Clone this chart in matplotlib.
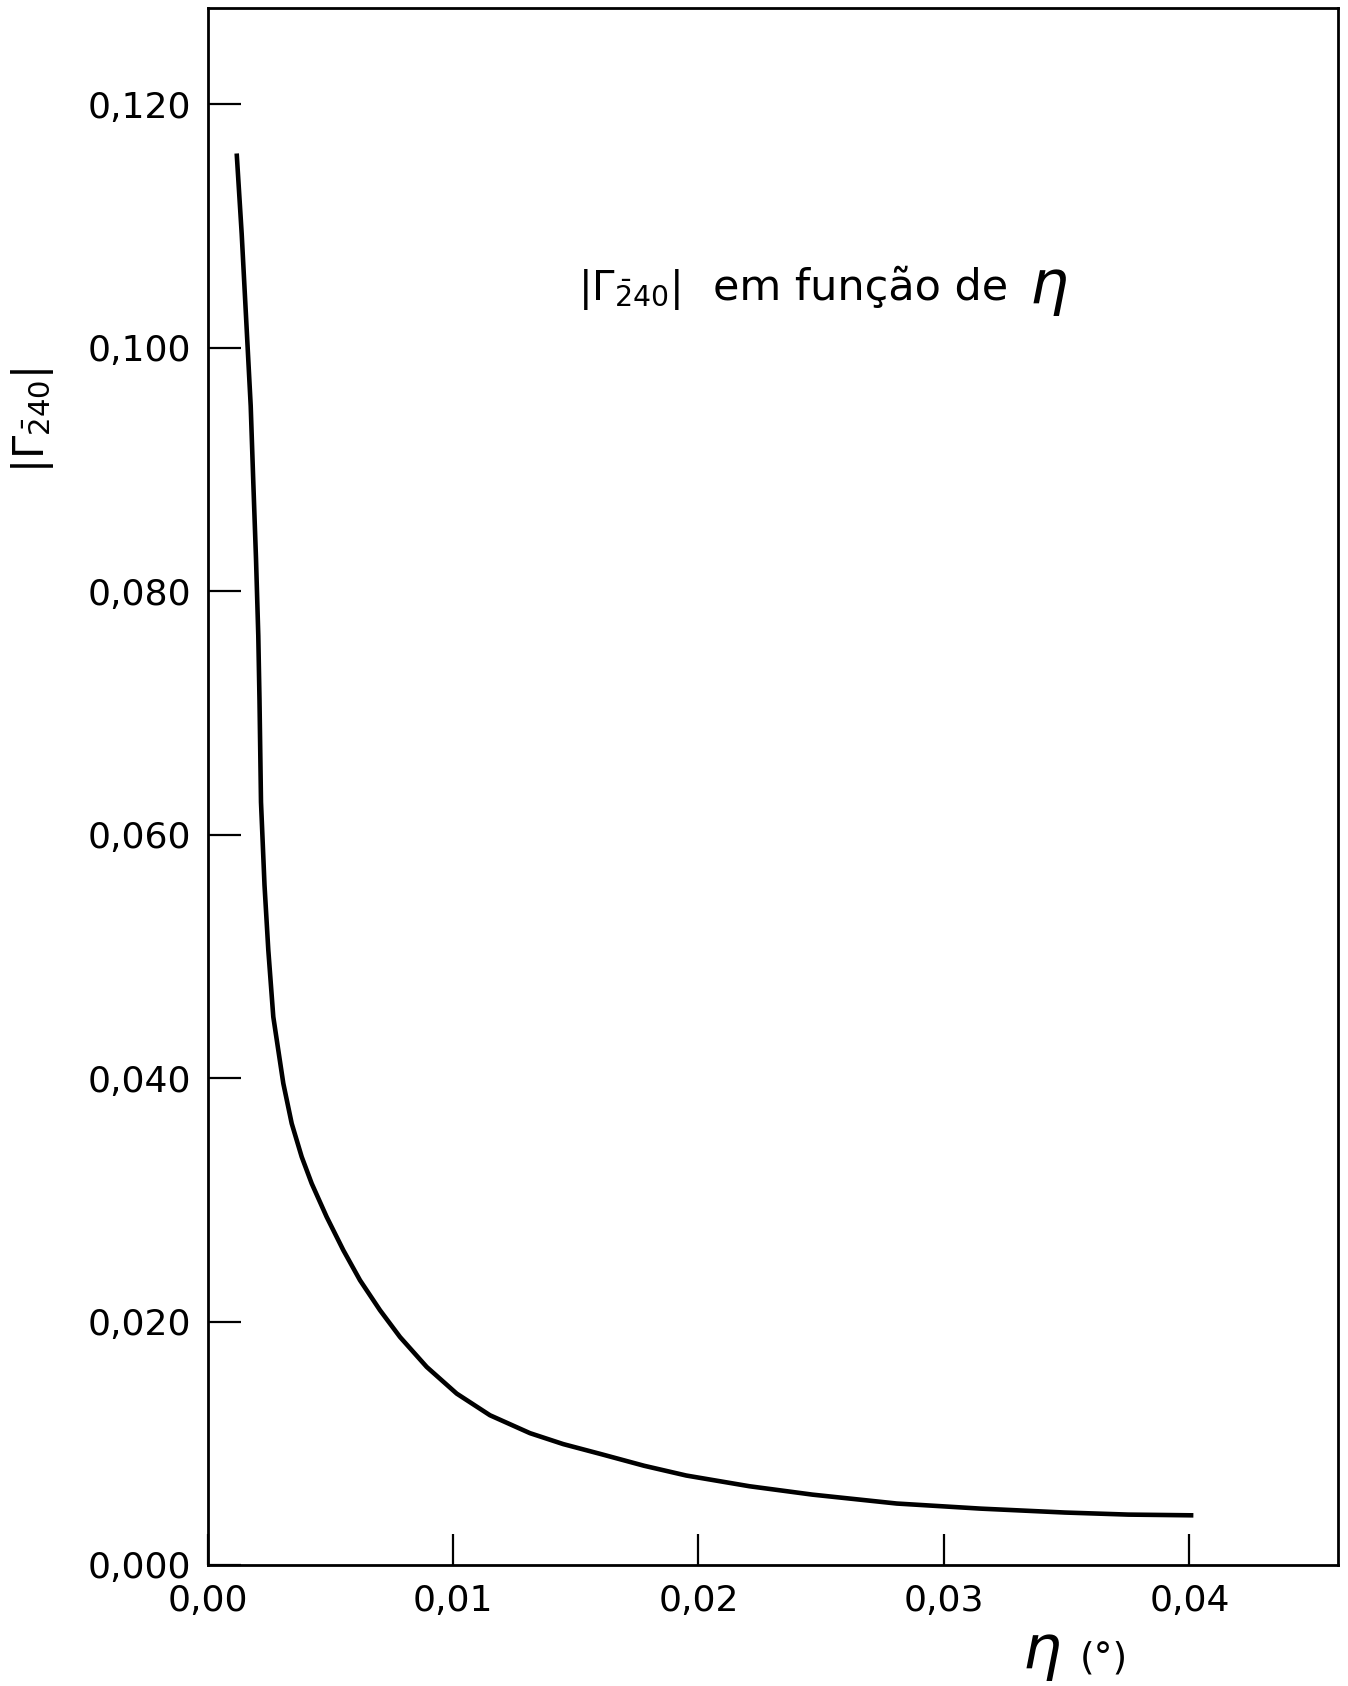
import matplotlib
matplotlib.use("Agg")
import matplotlib.pyplot as plt

# data
eta = [0.001189, 0.001393, 0.001597, 0.001760, 0.001866, 0.001976, 0.002069,
       0.002118, 0.002179, 0.002322, 0.002477, 0.002680, 0.002884, 0.003088,
       0.003430, 0.003837, 0.004244, 0.004855, 0.005532, 0.006212, 0.007026,
       0.007841, 0.008929, 0.010151, 0.011507, 0.013136, 0.014493, 0.016029,
       0.017788, 0.019503, 0.022073, 0.024644, 0.028073, 0.031503, 0.034929,
       0.037503, 0.040159]
gamma = [0.11595, 0.10934, 0.10149, 0.09521, 0.08891, 0.08264, 0.07633,
         0.07105, 0.06267, 0.05585, 0.05051, 0.04503, 0.04229, 0.03956,
         0.03627, 0.03353, 0.03134, 0.02859, 0.02586, 0.02339, 0.02093,
         0.01873, 0.01627, 0.01408, 0.01230, 0.01083, 0.00993, 0.00911,
         0.00815, 0.00735, 0.00647, 0.00578, 0.00505, 0.00463, 0.00431,
         0.00414, 0.00408]

xticks = [0.00, 0.01, 0.02, 0.03, 0.04]
xticklabels = ["0,00", "0,01", "0,02", "0,03", "0,04"]
yticks = [0.000, 0.020, 0.040, 0.060, 0.080, 0.100, 0.120]
yticklabels = ["0,000", "0,020", "0,040", "0,060", "0,080", "0,100", "0,120"]

plt.rcParams['font.family'] = ["DejaVu Sans"]

W, H = 1348, 1686
fig = plt.figure(figsize=(W / 100, H / 100), dpi=100)
L, R, T, B = 207.5, 1338, 8, 1565
ax = fig.add_axes([L / W, 1 - B / H, (R - L) / W, (B - T) / H])

ax.plot(eta, gamma, color="black", lw=3.3, solid_capstyle="butt",
        solid_joinstyle="round")

ax.set_xlim(0, 0.04605)
ax.set_ylim(0, 0.1279)
ax.set_xticks(xticks)
ax.set_xticklabels(xticklabels, fontsize=26)
ax.set_yticks(yticks)
ax.set_yticklabels(yticklabels, fontsize=26)
ax.tick_params(axis="x", direction="in", length=22, width=1.6, pad=14)
ax.tick_params(axis="y", direction="in", length=24, width=1.6, pad=12)
for s in ax.spines.values():
    s.set_linewidth(2.0)

# title pieces inside the plot
fig.text(578 / W, 1 - 300 / H, r"$|\Gamma_{\bar{2}40}|$", fontsize=29,
         ha="left", va="baseline")
fig.text(713 / W, 1 - 300 / H, "em função de", fontsize=31,
         ha="left", va="baseline")
fig.text(1029 / W, 1 - 303 / H, r"$\eta$", fontsize=44, ha="left",
         va="baseline")

# y-axis label
fig.text(33 / W, 1 - 420 / H, r"$|\Gamma_{\bar{2}40}|$", fontsize=30,
         rotation=90, ha="center", va="center")

# x-axis label
fig.text(1022 / W, 1 - 1668 / H, r"$\eta$", fontsize=44, ha="left",
         va="baseline")
fig.text(1080 / W, 1 - 1668 / H, "(°)", fontsize=27, ha="left",
         va="baseline")

fig.savefig("out.png", dpi=100, facecolor="white")
